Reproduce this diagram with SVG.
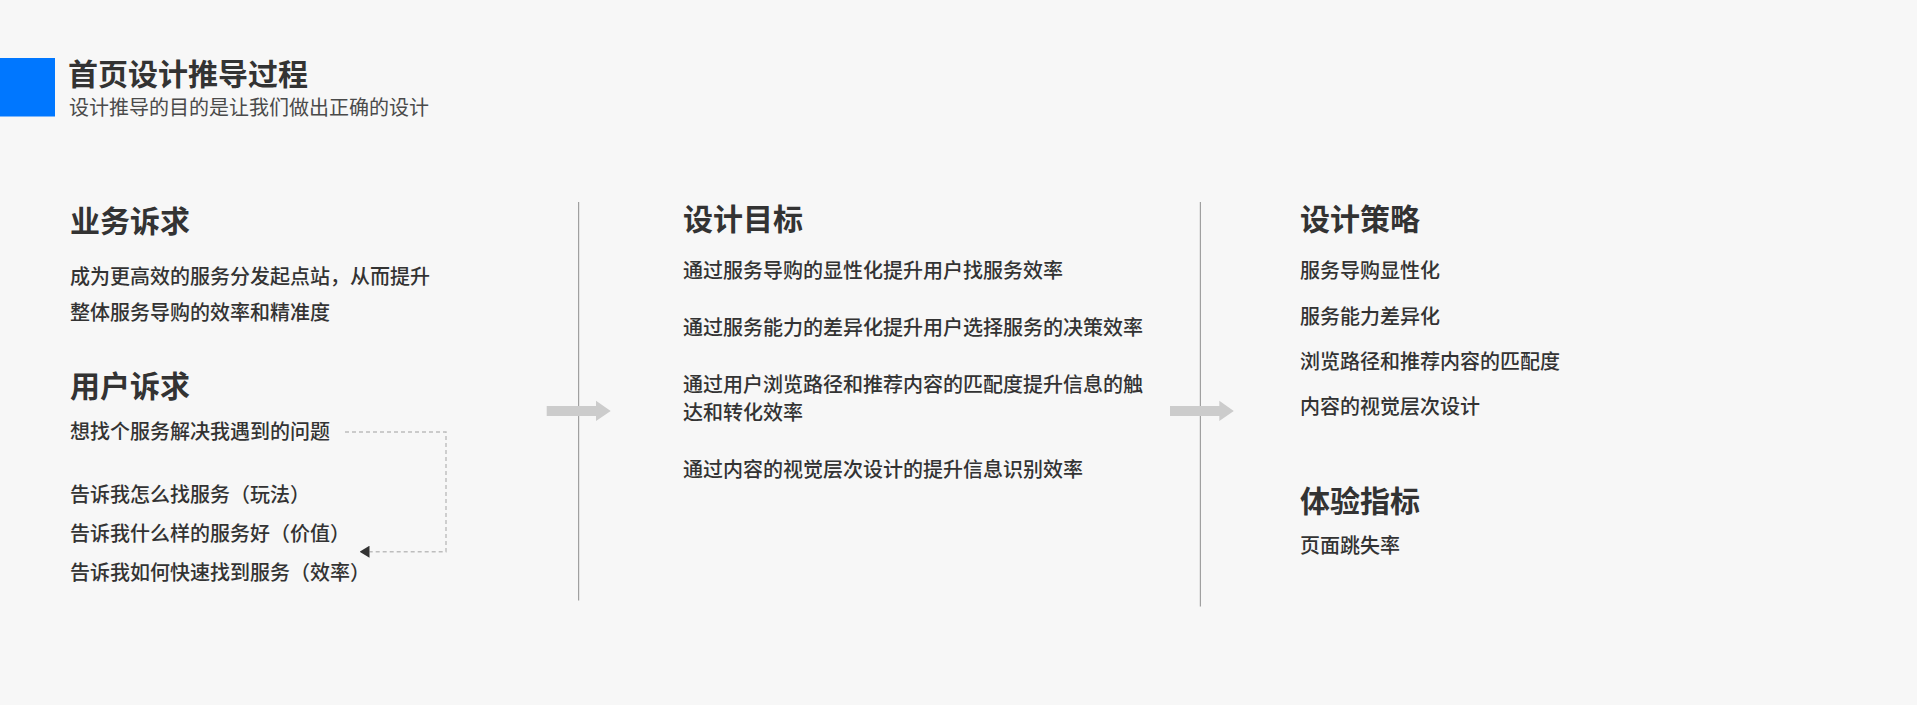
<svg xmlns="http://www.w3.org/2000/svg" width="1917" height="705" viewBox="0 0 1917 705">
<style>
text{font-family:"Noto Sans CJK SC","Noto Sans",sans-serif;fill:#333}
.title{font-size:30px;font-weight:700}
.sub{font-size:20px;font-weight:400;fill:#4a4a4a}
.h{font-size:30px;font-weight:700}
.b{font-size:20px;font-weight:500}
.div{stroke:#a0a0a0;stroke-width:1.2}
.flow{fill:#cccccc}
.dash{fill:none;stroke:#bdbdbd;stroke-width:1.4;stroke-dasharray:4 3}
</style>
<defs>
<marker id="tri" viewBox="0 0 10 12" refX="0" refY="6" markerWidth="10" markerHeight="12" markerUnits="userSpaceOnUse" orient="auto">
<path d="M0,0 L10,6 L0,12 Z" fill="#333"/>
</marker>
</defs>
<rect width="1917" height="705" fill="#f7f7f7"/>
<g id="header">
<rect x="0" y="58" width="55" height="58.5" fill="#0077ff"/>
<text class="title" x="68" y="85">首页设计推导过程</text>
<text class="sub" x="69" y="115">设计推导的目的是让我们做出正确的设计</text>
</g>
<g id="dividers">
<line class="div" x1="578.6" y1="202" x2="578.6" y2="600.5"/>
<line class="div" x1="1200.4" y1="202" x2="1200.4" y2="606.5"/>
</g>
<g id="business">
<text class="h" x="70" y="232">业务诉求</text>
<text class="b" x="70" y="284">成为更高效的服务分发起点站，从而提升</text>
<text class="b" x="70" y="320">整体服务导购的效率和精准度</text>
</g>
<g id="user">
<text class="h" x="70" y="397">用户诉求</text>
<text class="b" x="70" y="439">想找个服务解决我遇到的问题</text>
<text class="b" x="70" y="502">告诉我怎么找服务（玩法）</text>
<text class="b" x="70" y="541">告诉我什么样的服务好（价值）</text>
<text class="b" x="70" y="580">告诉我如何快速找到服务（效率）</text>
</g>
<g id="goals">
<text class="h" x="683" y="230">设计目标</text>
<text class="b" x="683" y="278">通过服务导购的显性化提升用户找服务效率</text>
<text class="b" x="683" y="335">通过服务能力的差异化提升用户选择服务的决策效率</text>
<text class="b" x="683" y="392">通过用户浏览路径和推荐内容的匹配度提升信息的触</text>
<text class="b" x="683" y="420">达和转化效率</text>
<text class="b" x="683" y="477">通过内容的视觉层次设计的提升信息识别效率</text>
</g>
<g id="strategy">
<text class="h" x="1300" y="230">设计策略</text>
<text class="b" x="1300" y="278">服务导购显性化</text>
<text class="b" x="1300" y="324">服务能力差异化</text>
<text class="b" x="1300" y="369">浏览路径和推荐内容的匹配度</text>
<text class="b" x="1300" y="414">内容的视觉层次设计</text>
</g>
<g id="metrics">
<text class="h" x="1300" y="512">体验指标</text>
<text class="b" x="1300" y="553">页面跳失率</text>
</g>
<g id="connectors">
<polygon class="flow" points="546.7,406 596,406 596,400.7 610.7,411 596,421 596,416 546.7,416"/>
<polygon class="flow" points="1170,406 1219.3,406 1219.3,400.7 1233.8,411 1219.3,421 1219.3,416 1170,416"/>
<path class="dash" d="M345,432 H446 V551.7 H369.5" marker-end="url(#tri)"/>
</g>
</svg>
